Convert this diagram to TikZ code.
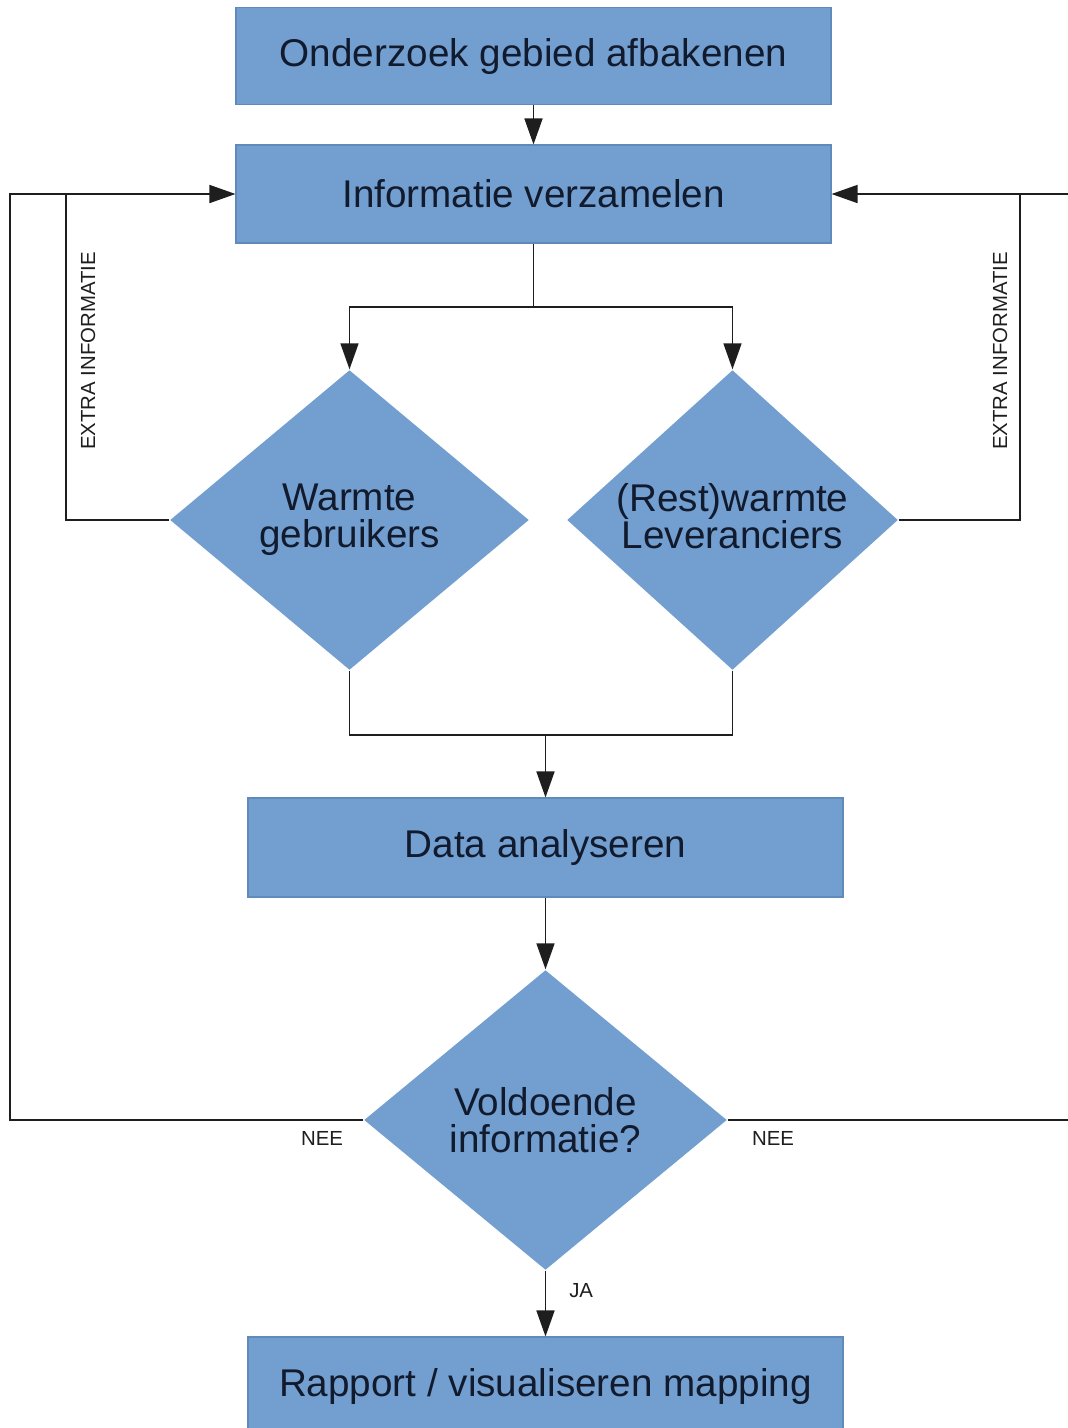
\documentclass[tikz,border=0pt]{standalone}
\usepackage{fontspec}
\setmainfont{Liberation Sans}
\usetikzlibrary{positioning,shapes.geometric,arrows.meta}
\definecolor{boxblue}{RGB}{114,159,207}
\definecolor{boxline}{RGB}{96,138,186}
\definecolor{boxtext}{RGB}{18,26,46}
\definecolor{wire}{RGB}{30,30,30}

\begin{document}
\begin{tikzpicture}[align=center]
    \tikzstyle{step box} = [draw=boxline,line width=0.3pt,fill=boxblue,rectangle,minimum width=5.95cm,minimum height=0.97cm,inner sep=0pt,text=boxtext,font=\fontsize{11}{10.8}\selectfont]
    \tikzstyle{choice} = [draw=none,fill=boxblue,diamond,inner sep=0pt,minimum height=3.0cm,text=boxtext,font=\fontsize{11}{10.6}\selectfont]
    \tikzstyle{flow} = [draw=wire,line width=0.45pt]
    \tikzstyle{arrow} = [flow,-{Triangle[length=2.6mm,width=1.8mm]}]
    \tikzstyle{tag} = [text=wire,font=\fontsize{5.8}{6}\selectfont,inner sep=0pt]
      \useasboundingbox[fill=white] (0,0) rectangle (10.67,-14.28);
      % stappen
      \node[step box] (afbakenen) at (5.335,-0.56) {Onderzoek gebied afbakenen};
      \node[step box,minimum height=0.98cm] (verzamelen) at (5.335,-1.94) {Informatie verzamelen};
      \node[choice,minimum width=3.59cm] (gebruikers) at (3.495,-5.20) {Warmte\\gebruikers};
      \node[choice,minimum width=3.31cm,shape aspect=1.15] (leveranciers) at (7.325,-5.20) {(Rest)warmte\\Leveranciers\vphantom{g}};
      \node[step box,minimum height=0.99cm] (analyseren) at (5.455,-8.475) {Data analyseren};
      \node[choice,minimum width=3.63cm] (voldoende) at (5.455,-11.20) {Voldoende\\informatie?};
      \node[step box,minimum height=0.98cm] (rapport) at (5.455,-13.86) {Rapport / visualiseren mapping};
      % hulppunten
      \coordinate (split) at (5.335,-3.07);
      \coordinate (join) at (5.455,-7.35);
      \coordinate (leftin) at (0.66,-1.94);
      \coordinate (leftout) at (0.10,-1.94);
      \coordinate (rightin) at (10.20,-1.94);
      \coordinate (rightout) at (10.75,-1.94);
      % verbindingen
      \draw[arrow] (afbakenen) -- (verzamelen);
      \draw[flow] (verzamelen) -- (split);
      \draw[arrow] (split) -| (gebruikers.north);
      \draw[arrow] (split) -| (leveranciers.north);
      \draw[flow] (gebruikers.south) |- (join);
      \draw[flow] (leveranciers.south) |- (join);
      \draw[arrow] (join) -- (analyseren);
      \draw[arrow] (analyseren) -- (voldoende);
      \draw[arrow] (voldoende) -- (rapport) node [tag,pos=0.30,right=0.23cm] (ja) {JA};
      \draw[flow] (gebruikers.west) -| (leftin);
      \draw[flow] (voldoende.west) -| (leftout) -- (leftin);
      \draw[arrow] (leftin) -- (verzamelen.west);
      \draw[flow] (leveranciers.east) -| (rightin);
      \draw[flow] (voldoende.east) -| (rightout) -- (rightin);
      \draw[arrow] (rightin) -- (verzamelen.east);
      % labels
      \node[tag,rotate=90] (extraleft) at (0.88,-3.51) {EXTRA INFORMATIE};
      \node[tag,rotate=90] (extraright) at (10.00,-3.51) {EXTRA INFORMATIE};
      \node[tag] (neeleft) at (3.22,-11.38) {NEE};
      \node[tag] (neeright) at (7.73,-11.38) {NEE};
  \end{tikzpicture}
\end{document}
